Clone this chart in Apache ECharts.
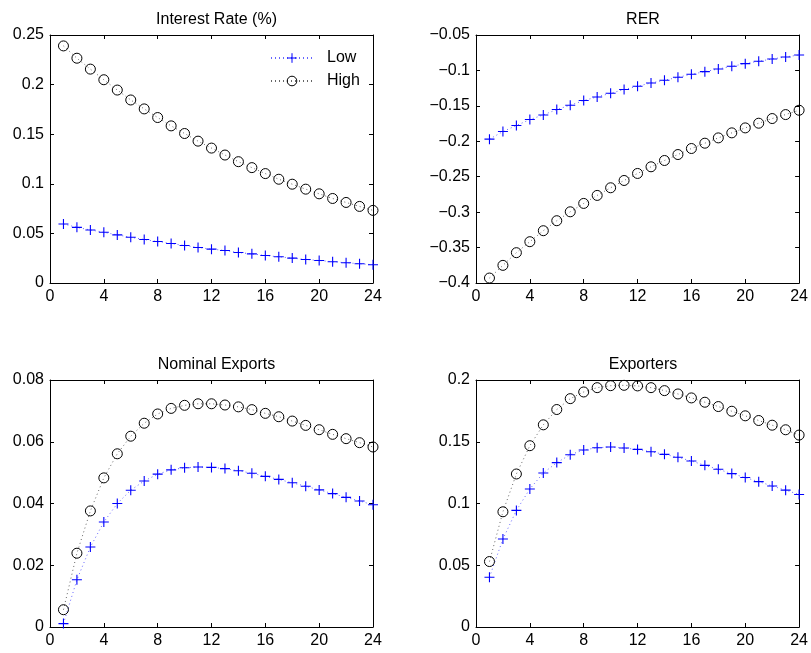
<!DOCTYPE html>
<html>
<head>
<meta charset="utf-8">
<title>Impulse responses</title>
<script src="https://cdn.jsdelivr.net/npm/echarts@6/dist/echarts.min.js"></script>
<style>
  html, body { margin: 0; padding: 0; background: #fff; }
  #chart { width: 811px; height: 653px; }
</style>
</head>
<body>
<div id="chart"></div>
<script>
// Horizon (periods after the shock)
const periods = [1, 2, 3, 4, 5, 6, 7, 8, 9, 10, 11, 12, 13, 14, 15, 16, 17, 18, 19, 20, 21, 22, 23, 24];

// Interest Rate (%)
const rateLow  = [0.0595, 0.0561, 0.0535, 0.0511, 0.0485, 0.0461, 0.0438, 0.0418, 0.0398, 0.0378, 0.0358, 0.0341,
                  0.0328, 0.0307, 0.0294, 0.0277, 0.0264, 0.0251, 0.0237, 0.0227, 0.0214, 0.0204, 0.0194, 0.0184];
const rateHigh = [0.2390, 0.2266, 0.2156, 0.2049, 0.1945, 0.1845, 0.1755, 0.1668, 0.1584, 0.1507, 0.1430, 0.1360,
                  0.1290, 0.1223, 0.1163, 0.1103, 0.1046, 0.0996, 0.0946, 0.0899, 0.0852, 0.0812, 0.0772, 0.0732];

// RER
const rerLow  = [-0.1970, -0.1862, -0.1778, -0.1693, -0.1628, -0.1552, -0.1491, -0.1425, -0.1374, -0.1322, -0.1270, -0.1223,
                 -0.1177, -0.1139, -0.1097, -0.1054, -0.1017, -0.0979, -0.0942, -0.0904, -0.0871, -0.0838, -0.0810, -0.0782];
const rerHigh = [-0.3930, -0.3751, -0.3572, -0.3417, -0.3262, -0.3121, -0.2995, -0.2877, -0.2764, -0.2656, -0.2553, -0.2454,
                 -0.2360, -0.2271, -0.2187, -0.2102, -0.2027, -0.1952, -0.1881, -0.1811, -0.1745, -0.1679, -0.1623, -0.1562];

// Nominal Exports
const nxLow  = [0.0011, 0.0153, 0.0259, 0.0340, 0.0400, 0.0443, 0.0473, 0.0495, 0.0509, 0.0516, 0.0518, 0.0517,
                0.0513, 0.0506, 0.0498, 0.0488, 0.0478, 0.0467, 0.0456, 0.0444, 0.0432, 0.0420, 0.0408, 0.0396];
const nxHigh = [0.0056, 0.0239, 0.0376, 0.0483, 0.0561, 0.0618, 0.0660, 0.0690, 0.0708, 0.0718, 0.0723, 0.0723,
                0.0719, 0.0713, 0.0704, 0.0692, 0.0681, 0.0667, 0.0653, 0.0639, 0.0624, 0.0610, 0.0597, 0.0583];

// Exporters
const expLow  = [0.0403, 0.0712, 0.0944, 0.1118, 0.1247, 0.1331, 0.1395, 0.1433, 0.1452, 0.1457, 0.1449, 0.1438,
                 0.1419, 0.1398, 0.1374, 0.1344, 0.1309, 0.1277, 0.1242, 0.1210, 0.1177, 0.1142, 0.1108, 0.1073];
const expHigh = [0.0530, 0.0933, 0.1239, 0.1468, 0.1637, 0.1761, 0.1849, 0.1903, 0.1938, 0.1954, 0.1957, 0.1952,
                 0.1938, 0.1914, 0.1887, 0.1855, 0.1820, 0.1785, 0.1747, 0.1710, 0.1672, 0.1634, 0.1597, 0.1554];

const panelTitles = ['Interest Rate (%)', 'RER', 'Nominal Exports', 'Exporters'];
const panelLow  = [rateLow, rerLow, nxLow, expLow];
const panelHigh = [rateHigh, rerHigh, nxHigh, expHigh];
const yRanges = [[0, 0.25, 0.05], [-0.4, -0.05, 0.05], [0, 0.08, 0.02], [0, 0.2, 0.05]];

const FONT = '"Liberation Sans", Arial, Helvetica, sans-serif';
const FONT_SIZE = 16;
const BLUE = '#0000ff';
const BLACK = '#000000';
const PLUS = 'path://M0,5L10,5M5,0L5,10';

const boxes = [
  { left: 50,  top: 35,  width: 323, height: 248 },
  { left: 476, top: 35,  width: 324, height: 248 },
  { left: 50,  top: 380, width: 323, height: 247 },
  { left: 476, top: 380, width: 324, height: 247 }
];

function fmtTick(v) {
  const s = String(parseFloat(Number(v).toFixed(4)));
  return s.replace('-', '\u2212');
}

const grid = [], xAxis = [], yAxis = [], series = [], title = [];

boxes.forEach((b, k) => {
  grid.push({ left: b.left, top: b.top, width: b.width, height: b.height, containLabel: false });
  title.push({
    text: panelTitles[k],
    left: b.left + b.width / 2,
    top: b.top - 28,
    textAlign: 'center',
    textStyle: { fontFamily: FONT, fontSize: FONT_SIZE, fontWeight: 'normal', color: BLACK }
  });

  const axisLineStyle = { show: true, onZero: false, lineStyle: { color: BLACK, width: 1 } };
  const tickStyle = { show: true, inside: true, length: 4, lineStyle: { color: BLACK, width: 1 } };
  const [ymin, ymax, yint] = yRanges[k];

  // bottom axis with labels, top axis as box edge
  xAxis.push({
    type: 'value', gridIndex: k, position: 'bottom', min: 0, max: 24, interval: 4,
    axisLine: axisLineStyle, axisTick: tickStyle, splitLine: { show: false },
    axisLabel: { show: true, margin: 6, color: BLACK, fontFamily: FONT, fontSize: FONT_SIZE, formatter: fmtTick }
  });
  xAxis.push({
    type: 'value', gridIndex: k, position: 'top', min: 0, max: 24, interval: 4,
    axisLine: axisLineStyle, axisTick: tickStyle, splitLine: { show: false },
    axisLabel: { show: false }
  });
  // left axis with labels, right axis as box edge
  yAxis.push({
    type: 'value', gridIndex: k, position: 'left', min: ymin, max: ymax, interval: yint,
    axisLine: axisLineStyle, axisTick: tickStyle, splitLine: { show: false },
    axisLabel: { show: true, margin: 6, color: BLACK, fontFamily: FONT, fontSize: FONT_SIZE, formatter: fmtTick }
  });
  yAxis.push({
    type: 'value', gridIndex: k, position: 'right', min: ymin, max: ymax, interval: yint,
    axisLine: axisLineStyle, axisTick: tickStyle, splitLine: { show: false },
    axisLabel: { show: false }
  });

  const xi = 2 * k, yi = 2 * k;
  series.push({
    name: 'Low', type: 'line', xAxisIndex: xi, yAxisIndex: yi,
    data: periods.map((p, i) => [p, panelLow[k][i]]),
    symbol: PLUS, symbolSize: 10,
    itemStyle: { color: BLUE, borderColor: BLUE, borderWidth: 1.1 },
    lineStyle: { color: BLUE, width: 1, type: [1, 3], opacity: 0.6 },
    emphasis: { disabled: true }, silent: true, animation: false, clip: false
  });
  series.push({
    name: 'High', type: 'line', xAxisIndex: xi, yAxisIndex: yi,
    data: periods.map((p, i) => [p, panelHigh[k][i]]),
    symbol: 'circle', symbolSize: 10,
    itemStyle: { color: 'rgba(0,0,0,0)', borderColor: BLACK, borderWidth: 1 },
    lineStyle: { color: BLACK, width: 1, type: [1, 3], opacity: 0.6 },
    emphasis: { disabled: true }, silent: true, animation: false, clip: false
  });
});

const chart = echarts.init(document.getElementById('chart'), null, { renderer: 'canvas' });
chart.setOption({
  backgroundColor: '#ffffff',
  animation: false,
  title: title,
  legend: {
    data: ['Low', 'High'],
    orient: 'vertical',
    left: 270, top: 50,
    itemWidth: 42, itemHeight: 12, itemGap: 7,
    padding: 0,
    itemStyle: { borderWidth: 1 },
    textStyle: { fontFamily: FONT, fontSize: FONT_SIZE, color: BLACK, padding: [0, 0, 0, 9] },
    selectedMode: false
  },
  grid: grid,
  xAxis: xAxis,
  yAxis: yAxis,
  series: series
});
</script>
</body>
</html>
